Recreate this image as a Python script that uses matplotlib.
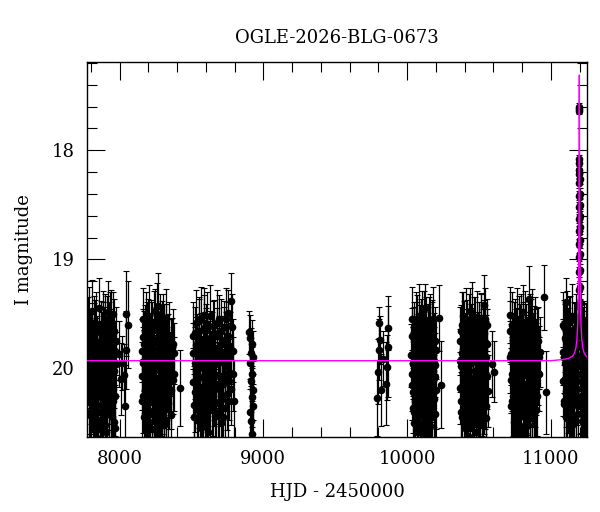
import numpy as np
import matplotlib
matplotlib.use("Agg")
import matplotlib.pyplot as plt
from matplotlib.ticker import MultipleLocator

# OGLE I-band photometry, (HJD-2450000, I mag, error), one list per season
s2017 = [(7781,19.62,0.27),(7785,20.05,0.31),(7788,20.31,0.35),(7792,19.88,0.28),(7796,19.74,0.24),
         (7799,20.18,0.33),(7803,20.44,0.38),(7807,19.95,0.30),(7811,19.69,0.22),(7814,20.12,0.31),
         (7818,20.52,0.40),(7822,19.83,0.27),(7826,20.02,0.29),(7830,19.58,0.21),(7833,20.27,0.34),
         (7837,20.39,0.36),(7841,19.91,0.28),(7845,19.77,0.25),(7849,20.08,0.30),(7852,20.56,0.42),
         (7856,19.66,0.23),(7860,20.21,0.33),(7864,19.97,0.29),(7868,19.85,0.27),(7872,20.34,0.35),
         (7875,20.47,0.37),(7879,19.72,0.24),(7883,20.01,0.30),(7887,19.61,0.22),(7891,20.15,0.32),
         (7895,20.29,0.34),(7899,19.93,0.28),(7903,19.80,0.26),(7907,20.58,0.41),(7911,20.11,0.31),
         (7915,19.55,0.21),(7919,19.89,0.27),(7923,20.24,0.33),(7927,20.42,0.37),(7931,19.52,0.22),
         (7935,19.99,0.29),(7939,20.36,0.35),(7943,19.71,0.25),(7947,20.06,0.30),(7951,19.50,0.20),
         (7955,20.19,0.32),(7960,20.49,0.38),(7965,19.84,0.27),(7971,20.55,0.40),(7978,19.96,0.29),
         (7998,19.87,0.30),(8012,20.10,0.33),(8020,19.95,0.25),(8030,20.06,0.28),(8035,20.35,0.38),
         (8042,19.83,0.36),(8047,19.50,0.39),(8058,19.60,0.40)]
s2017b = [(7783,19.98,0.33),(7790,19.55,0.30),(7794,20.40,0.38),(7801,19.79,0.31),(7805,20.22,0.36),
          (7809,19.47,0.28),(7816,20.00,0.34),(7820,20.35,0.38),(7824,19.64,0.30),(7828,20.46,0.40),
          (7835,19.86,0.32),(7839,19.60,0.30),(7843,20.25,0.37),(7847,20.50,0.42),(7854,19.90,0.33),
          (7858,19.45,0.28),(7862,20.40,0.38),(7866,20.10,0.35),(7870,19.68,0.30),(7877,20.20,0.36),
          (7881,19.58,0.29),(7885,20.38,0.40),(7889,19.95,0.33),(7893,19.75,0.31),(7897,20.52,0.42),
          (7901,19.62,0.30),(7905,20.05,0.34),(7909,19.85,0.32),(7913,20.33,0.38),(7917,19.48,0.28),
          (7921,20.10,0.35),(7925,19.70,0.31),(7929,20.28,0.37),(7933,19.92,0.33),(7937,19.57,0.29),
          (7941,20.15,0.36),(7945,20.45,0.41),(7949,19.80,0.32),(7953,20.30,0.38),(7958,19.66,0.30),
          (7962,20.02,0.34),(7968,20.25,0.37),(7975,19.75,0.31)]

s2018 = [(8153,19.84,0.29),(8157,20.07,0.31),(8162,19.71,0.25),(8166,20.25,0.34),(8170,19.93,0.28),
         (8175,20.41,0.37),(8179,19.66,0.24),(8183,20.12,0.31),(8188,19.89,0.27),(8192,20.33,0.35),
         (8196,19.58,0.22),(8201,20.03,0.30),(8205,20.49,0.39),(8209,19.77,0.26),(8214,20.18,0.33),
         (8218,19.95,0.29),(8222,20.56,0.41),(8227,19.62,0.23),(8231,20.09,0.30),(8235,19.82,0.27),
         (8240,20.38,0.36),(8244,19.47,0.20),(8248,20.21,0.33),(8253,19.98,0.29),(8257,20.60,0.42),
         (8261,19.73,0.25),(8266,20.14,0.32),(8270,19.43,0.30),(8274,20.30,0.34),(8279,19.87,0.28),
         (8283,20.45,0.38),(8287,19.69,0.24),(8292,20.05,0.30),(8296,20.26,0.34),(8300,19.54,0.22),
         (8305,19.92,0.28),(8309,20.52,0.40),(8313,19.79,0.26),(8318,20.16,0.32),(8322,19.64,0.23),
         (8326,20.37,0.36),(8331,19.90,0.28),(8335,20.01,0.30),(8340,19.75,0.25),(8345,20.23,0.33),
         (8351,19.96,0.29),(8357,20.43,0.37),(8364,19.81,0.27),(8372,20.11,0.31),(8380,19.86,0.28),
         (8417,20.18,0.35)]
s2018b = [(8155,20.30,0.37),(8160,19.95,0.33),(8164,19.55,0.29),(8168,20.45,0.40),(8173,19.78,0.31),
          (8177,20.20,0.36),(8181,19.60,0.30),(8186,20.38,0.39),(8190,19.70,0.31),(8194,20.06,0.34),
          (8199,20.50,0.42),(8203,19.85,0.32),(8207,19.52,0.28),(8212,20.28,0.37),(8216,20.00,0.34),
          (8220,19.67,0.30),(8225,20.42,0.40),(8229,19.88,0.33),(8233,20.15,0.36),(8238,19.58,0.29),
          (8242,20.02,0.34),(8246,20.48,0.41),(8251,19.75,0.31),(8255,20.35,0.38),(8259,19.50,0.28),
          (8264,19.97,0.33),(8268,20.55,0.43),(8272,19.80,0.32),(8277,20.10,0.35),(8281,19.62,0.30),
          (8285,20.25,0.37),(8290,19.92,0.33),(8294,19.68,0.30),(8298,20.40,0.39),(8303,20.12,0.35),
          (8307,19.72,0.31),(8311,20.30,0.37),(8316,19.94,0.33),(8320,20.47,0.41),(8324,19.56,0.29),
          (8329,20.05,0.34),(8333,19.83,0.32),(8338,20.32,0.38),(8343,19.70,0.31),(8348,20.08,0.35),
          (8354,19.88,0.33),(8360,20.20,0.36),(8368,19.78,0.32),(8376,20.05,0.34)]

s2019 = [(8509,19.86,0.28),(8514,20.13,0.32),(8519,20.34,0.36),(8524,19.68,0.24),(8529,20.02,0.30),
         (8534,19.79,0.26),(8539,20.47,0.39),(8544,19.92,0.29),(8549,20.22,0.33),(8554,19.57,0.22),
         (8559,20.08,0.31),(8564,20.55,0.41),(8569,19.74,0.25),(8574,19.99,0.29),(8579,20.29,0.34),
         (8584,19.51,0.25),(8589,20.17,0.32),(8594,19.83,0.27),(8599,20.40,0.37),(8604,19.65,0.24),
         (8609,20.04,0.30),(8614,20.58,0.42),(8619,19.88,0.28),(8624,20.26,0.34),(8629,19.72,0.25),
         (8634,20.10,0.31),(8640,19.95,0.29),(8646,20.37,0.36),(8652,19.61,0.23),(8658,20.20,0.33),
         (8664,19.85,0.27),(8670,20.44,0.38),(8676,19.70,0.25),(8682,20.06,0.30),(8688,19.55,0.22),
         (8694,20.31,0.35),(8700,19.91,0.28),(8706,20.50,0.40),(8712,19.78,0.26),(8718,20.14,0.32),
         (8724,19.62,0.24),(8730,20.36,0.36),(8736,19.97,0.29),(8742,19.73,0.25),(8748,20.24,0.33),
         (8754,19.49,0.21),(8760,20.03,0.30),(8767,19.86,0.28),(8774,20.19,0.33),(8776,19.38,0.25),
         (8783,19.62,0.30),(8790,19.84,0.29)]
s2019b = [(8511,19.70,0.31),(8516,20.45,0.40),(8521,19.95,0.33),(8526,20.22,0.36),(8531,19.58,0.30),
          (8536,20.10,0.35),(8541,19.82,0.32),(8546,20.38,0.39),(8551,19.66,0.30),(8556,19.98,0.33),
          (8561,20.30,0.37),(8566,19.54,0.29),(8571,20.18,0.36),(8576,20.50,0.42),(8581,19.86,0.32),
          (8586,19.63,0.30),(8591,20.26,0.37),(8596,20.02,0.34),(8601,19.76,0.31),(8606,20.44,0.40),
          (8611,19.60,0.30),(8616,20.12,0.35),(8621,19.90,0.33),(8626,20.35,0.38),(8631,19.52,0.28),
          (8637,20.05,0.34),(8643,19.80,0.32),(8649,20.25,0.37),(8655,19.68,0.31),(8661,20.40,0.39),
          (8667,19.96,0.33),(8673,20.15,0.36),(8679,19.58,0.30),(8685,20.32,0.38),(8691,19.84,0.32),
          (8697,20.08,0.35),(8703,19.66,0.30),(8709,20.28,0.37),(8715,19.94,0.33),(8721,20.45,0.40),
          (8727,19.75,0.31),(8733,20.10,0.35),(8739,19.55,0.29),(8745,19.92,0.33),(8751,20.30,0.38),
          (8757,19.70,0.31),(8763,20.12,0.35),(8770,19.80,0.32),(8786,20.05,0.34),(8793,20.30,0.38)]

s2020 = [(8903,19.67,0.20),(8906,19.95,0.24),(8908,20.40,0.30),(8910,19.72,0.21),(8912,20.12,0.26),
         (8914,20.48,0.32),(8916,19.86,0.23),(8918,20.26,0.28),(8920,19.78,0.22),(8922,20.60,0.34),
         (8924,20.05,0.25),(8926,20.35,0.30),(8928,19.90,0.24),(8930,20.20,0.27)]

s2022 = [(9788,20.27,0.35),(9795,20.03,0.30),(9802,19.83,0.28),(9806,19.58,0.14),(9813,19.74,0.22),
         (9818,20.20,0.33),(9830,19.91,0.25),(9853,20.14,0.38),(9857,19.99,0.30),(9864,19.63,0.20),
         (9870,19.80,0.46)]

s2023 = [(10029,19.88,0.29),(10033,20.15,0.32),(10037,19.70,0.25),(10040,20.36,0.36),(10044,19.96,0.29),
         (10048,20.50,0.40),(10051,19.62,0.23),(10055,20.08,0.31),(10059,19.81,0.27),(10062,20.27,0.34),
         (10066,19.55,0.22),(10070,20.01,0.30),(10073,20.45,0.38),(10077,19.76,0.26),(10081,20.19,0.33),
         (10084,19.93,0.28),(10088,20.58,0.42),(10092,19.66,0.24),(10095,20.11,0.31),(10099,19.84,0.27),
         (10103,20.39,0.37),(10106,19.50,0.21),(10110,20.23,0.33),(10114,19.99,0.29),(10117,20.62,0.43),
         (10121,19.73,0.25),(10125,20.13,0.32),(10128,19.45,0.22),(10132,20.31,0.35),(10136,19.89,0.28),
         (10139,20.47,0.39),(10143,19.68,0.24),(10147,20.04,0.30),(10150,20.25,0.34),(10154,19.58,0.23),
         (10158,19.94,0.29),(10161,20.53,0.40),(10165,19.79,0.26),(10169,20.17,0.32),(10172,19.63,0.24),
         (10176,20.35,0.36),(10180,19.91,0.28),(10183,20.02,0.30),(10187,19.74,0.25),(10190,20.21,0.33),
         (10194,19.97,0.29),(10197,20.42,0.37),(10200,19.83,0.27),(10219,19.54,0.30),(10235,20.15,0.40)]
s2023b = [(10031,20.05,0.34),(10035,19.55,0.30),(10039,19.95,0.33),(10042,20.22,0.37),(10046,19.75,0.31),
          (10050,20.40,0.40),(10053,19.85,0.32),(10057,20.30,0.38),(10060,19.60,0.30),(10064,20.12,0.35),
          (10068,20.45,0.41),(10071,19.70,0.31),(10075,19.98,0.33),(10079,20.35,0.39),(10082,19.52,0.29),
          (10086,20.15,0.36),(10090,19.88,0.33),(10093,20.50,0.42),(10097,19.66,0.30),(10101,20.02,0.34),
          (10104,20.55,0.43),(10108,19.80,0.32),(10112,20.28,0.38),(10115,19.58,0.29),(10119,20.08,0.35),
          (10123,20.40,0.40),(10126,19.92,0.33),(10130,19.65,0.30),(10134,20.20,0.37),(10137,20.58,0.44),
          (10141,19.85,0.32),(10145,20.32,0.38),(10148,19.72,0.31),(10152,20.05,0.34),(10156,20.45,0.41),
          (10159,19.62,0.30),(10163,20.10,0.35),(10167,19.90,0.33),(10170,20.38,0.39),(10174,19.68,0.31),
          (10178,20.12,0.35),(10181,19.55,0.30),(10185,20.28,0.37),(10188,19.95,0.33),(10192,20.08,0.35),
          (10195,19.75,0.31),(10198,20.20,0.36)]

s2024 = [(10366,19.93,0.29),(10370,20.18,0.33),(10374,19.66,0.24),(10378,20.40,0.37),(10382,19.86,0.28),
         (10386,20.05,0.30),(10390,19.52,0.22),(10394,20.29,0.35),(10398,19.97,0.29),(10402,20.55,0.41),
         (10406,19.74,0.25),(10410,20.12,0.31),(10414,19.60,0.23),(10418,20.34,0.36),(10422,19.90,0.28),
         (10426,20.62,0.43),(10430,19.79,0.26),(10434,20.08,0.30),(10438,19.47,0.21),(10442,20.23,0.33),
         (10446,19.95,0.29),(10450,20.48,0.39),(10454,19.69,0.24),(10458,20.15,0.32),(10462,19.84,0.27),
         (10466,20.38,0.37),(10470,19.57,0.22),(10474,20.02,0.30),(10478,20.58,0.42),(10482,19.76,0.26),
         (10486,20.20,0.33),(10490,19.88,0.28),(10494,20.44,0.38),(10498,19.63,0.24),(10502,20.10,0.31),
         (10506,19.82,0.27),(10510,20.31,0.35),(10514,19.54,0.23),(10518,19.99,0.29),(10522,20.52,0.40),
         (10526,19.71,0.25),(10530,20.16,0.32),(10534,19.42,0.28),(10538,20.26,0.34),(10542,19.92,0.28),
         (10546,20.46,0.38),(10550,19.77,0.26),(10554,20.07,0.30),(10557,19.60,0.24),(10560,20.21,0.33),
         (10593,19.96,0.30),(10605,20.03,0.28)]
s2024b = [(10368,19.75,0.31),(10372,20.30,0.38),(10376,19.98,0.33),(10380,19.60,0.30),(10384,20.45,0.41),
          (10388,19.82,0.32),(10392,20.15,0.36),(10396,19.68,0.30),(10400,20.28,0.37),(10404,19.90,0.33),
          (10408,20.50,0.42),(10412,19.55,0.29),(10416,20.05,0.34),(10420,19.78,0.32),(10424,20.38,0.39),
          (10428,19.62,0.30),(10432,20.20,0.36),(10436,19.95,0.33),(10440,20.55,0.43),(10444,19.72,0.31),
          (10448,20.10,0.35),(10452,19.50,0.29),(10456,20.32,0.38),(10460,19.86,0.32),(10464,20.48,0.41),
          (10468,19.65,0.30),(10472,20.18,0.36),(10476,19.92,0.33),(10480,20.40,0.40),(10484,19.58,0.29),
          (10488,20.02,0.34),(10492,19.80,0.32),(10496,20.30,0.38),(10500,19.70,0.31),(10504,20.52,0.42),
          (10508,19.95,0.33),(10512,20.12,0.35),(10516,19.62,0.30),(10520,20.25,0.37),(10524,19.85,0.32),
          (10528,20.42,0.40),(10532,19.68,0.31),(10536,20.08,0.35),(10540,19.55,0.29),(10544,20.20,0.36),
          (10548,19.90,0.33),(10552,20.35,0.39),(10556,19.78,0.32)]

s2025 = [(10716,19.51,0.26),(10719,19.66,0.28),(10722,20.11,0.30),(10726,19.87,0.28),(10730,20.30,0.35),
         (10734,19.74,0.25),(10738,20.05,0.30),(10742,20.49,0.39),(10746,19.62,0.23),(10750,20.18,0.33),
         (10754,19.93,0.29),(10758,20.40,0.37),(10762,19.69,0.24),(10766,20.02,0.30),(10770,20.57,0.42),
         (10774,19.80,0.27),(10778,20.24,0.34),(10782,19.56,0.22),(10786,20.09,0.31),(10790,19.96,0.29),
         (10794,20.44,0.38),(10798,19.72,0.25),(10802,20.14,0.32),(10806,19.48,0.24),(10810,20.33,0.36),
         (10814,19.89,0.28),(10818,20.60,0.43),(10822,19.77,0.26),(10826,20.06,0.30),(10830,19.64,0.23),
         (10834,20.27,0.34),(10838,19.91,0.28),(10842,20.52,0.40),(10846,19.36,0.30),(10850,20.16,0.32),
         (10854,19.84,0.27),(10858,20.37,0.36),(10862,19.59,0.23),(10866,20.00,0.30),(10870,20.46,0.38),
         (10874,19.75,0.26),(10878,20.21,0.33),(10882,19.94,0.29),(10886,19.67,0.24),(10890,20.31,0.35),
         (10894,19.86,0.28),(10898,20.12,0.31),(10902,19.70,0.25),(10908,20.04,0.30),(10915,19.90,0.29),
         (10951,19.35,0.30),(10965,20.22,0.38)]
s2025b = [(10718,19.90,0.33),(10724,20.35,0.39),(10728,19.60,0.30),(10732,20.05,0.34),(10736,19.82,0.32),
          (10740,20.25,0.37),(10744,19.95,0.33),(10748,20.45,0.41),(10752,19.66,0.30),(10756,20.12,0.35),
          (10760,19.78,0.32),(10764,20.30,0.38),(10768,19.55,0.29),(10772,20.20,0.36),(10776,19.98,0.33),
          (10780,20.52,0.42),(10784,19.72,0.31),(10788,20.28,0.37),(10792,19.62,0.30),(10796,20.08,0.35),
          (10800,19.88,0.33),(10804,20.40,0.40),(10808,19.70,0.31),(10812,20.15,0.36),(10816,19.92,0.33),
          (10820,20.55,0.43),(10824,19.58,0.29),(10828,20.22,0.37),(10832,19.85,0.32),(10836,20.45,0.41),
          (10840,19.68,0.30),(10844,20.02,0.34),(10848,19.80,0.32),(10852,20.32,0.38),(10856,19.62,0.30),
          (10860,20.10,0.35),(10864,19.95,0.33),(10868,20.28,0.37),(10872,19.56,0.29),(10876,20.05,0.34),
          (10880,20.42,0.40),(10884,19.78,0.32),(10888,20.18,0.36),(10892,19.65,0.30),(10896,20.38,0.39),
          (10900,19.88,0.33),(10905,20.25,0.37),(10911,19.75,0.31),(10920,20.05,0.34),(10928,19.85,0.32)]

s2026 = [(11083,19.85,0.30),(11087,20.12,0.32),(11091,19.62,0.25),(11095,20.33,0.36),(11099,19.95,0.29),
         (11103,19.39,0.22),(11107,20.21,0.33),(11111,19.78,0.26),(11115,20.46,0.39),(11119,19.69,0.24),
         (11123,20.05,0.30),(11127,19.88,0.28),(11131,20.38,0.37),(11135,19.57,0.23),(11139,20.16,0.32),
         (11143,19.92,0.28),(11147,20.52,0.41),(11151,19.74,0.25),(11155,20.09,0.31),(11159,19.83,0.27),
         (11163,20.29,0.35),(11167,19.64,0.24),(11171,20.02,0.30),(11175,20.43,0.38),(11179,19.80,0.27),
         (11183,20.19,0.33),(11187,19.70,0.25),(11191,19.98,0.29),
         (11206,19.78,0.27),(11209,20.25,0.34),(11212,19.90,0.29),(11215,20.48,0.40),(11218,19.66,0.25),
         (11221,20.11,0.31),(11224,19.85,0.28),(11227,20.37,0.37),(11230,19.73,0.26),(11233,20.06,0.30),
         (11236,20.55,0.42),(11239,19.94,0.29),(11242,20.20,0.33),(11245,19.81,0.27),(11248,20.40,0.38),
         (11251,19.99,0.30)]
s2026b = [(11085,19.60,0.30),(11089,20.30,0.38),(11093,19.90,0.33),(11097,20.10,0.35),(11101,19.72,0.31),
          (11105,20.45,0.41),(11109,19.95,0.33),(11113,19.58,0.29),(11117,20.22,0.37),(11121,19.82,0.32),
          (11125,20.40,0.40),(11129,19.65,0.30),(11133,20.05,0.34),(11137,19.88,0.33),(11141,20.28,0.38),
          (11145,19.52,0.29),(11149,20.15,0.36),(11153,19.96,0.33),(11157,20.48,0.42),(11161,19.70,0.31),
          (11165,20.08,0.35),(11169,19.85,0.32),(11173,20.30,0.38),(11177,19.62,0.30),(11181,20.12,0.35),
          (11185,19.92,0.33),(11189,20.35,0.39),(11192,19.78,0.32),
          (11207,20.05,0.34),(11210,19.62,0.30),(11213,20.30,0.38),(11216,19.88,0.33),(11219,20.42,0.40),
          (11222,19.75,0.31),(11225,20.15,0.36),(11228,19.95,0.33),(11231,20.50,0.42),(11234,19.68,0.30),
          (11237,20.22,0.37),(11240,19.85,0.32),(11243,20.35,0.39),(11246,19.72,0.31),(11249,20.10,0.35)]

# points on the magnification peak
event = [(11193.0,19.55,0.16),(11194.0,19.42,0.14),(11194.8,19.28,0.12),(11195.5,19.12,0.10),
         (11196.0,18.98,0.09),(11196.4,18.86,0.08),(11196.8,18.74,0.07),(11197.1,18.63,0.06),
         (11197.4,18.52,0.06),(11197.7,18.42,0.05),(11197.9,18.30,0.05),(11198.1,18.22,0.04),
         (11198.3,18.12,0.04),(11198.6,17.62,0.03),(11198.8,17.60,0.03),(11199.2,17.64,0.03),
         (11199.5,18.08,0.04),(11199.8,18.18,0.04),(11200.0,18.26,0.05),(11200.3,18.40,0.05),
         (11200.6,18.50,0.06),(11200.9,18.60,0.06),(11201.3,18.70,0.07),(11201.7,18.82,0.08),
         (11202.2,18.95,0.09),(11202.8,19.10,0.10),(11203.5,19.25,0.12),(11204.3,19.40,0.14),
         (11205.0,19.52,0.16)]

# model light curve
model_t = [7700, 11000, 11080, 11120, 11150, 11165, 11175, 11182, 11187, 11190, 11193, 11195,
           11196.5, 11197.5, 11198.3, 11198.7, 11199.1, 11199.9, 11200.9, 11202.4, 11204.4,
           11207.4, 11210.4, 11215.4, 11222.4, 11232, 11247, 11300]
model_m = [19.93, 19.93, 19.92, 19.91, 19.89, 19.86, 19.81, 19.73, 19.60, 19.45, 19.18, 18.85,
           18.45, 18.00, 17.55, 17.31, 17.55, 18.00, 18.45, 18.85, 19.18,
           19.45, 19.60, 19.73, 19.81, 19.86, 19.89, 19.91]

plt.rcParams['font.family'] = ['DejaVu Serif']

fig = plt.figure(figsize=(6, 5.12), dpi=100)
ax = fig.add_axes([87/600, 1 - 437/512, 500/600, 375/512])

seasons = [s2017, s2017b, s2018, s2018b, s2019, s2019b, s2020, s2022,
           s2023, s2023b, s2024, s2024b, s2025, s2025b, s2026, s2026b, event]
for season in seasons:
    d = np.array(season)
    ax.errorbar(d[:, 0], d[:, 1], yerr=d[:, 2], fmt='o', color='black', ms=4.5,
                ecolor='black', elinewidth=0.9, capsize=2.5, capthick=0.8, zorder=2)

ax.plot(model_t, model_m, color='magenta', lw=1.0, zorder=3)

ax.set_xlim(7773, 11252)
ax.set_ylim(20.63, 17.19)

ax.xaxis.set_major_locator(MultipleLocator(1000))
ax.xaxis.set_minor_locator(MultipleLocator(200))
ax.yaxis.set_major_locator(MultipleLocator(1))
ax.yaxis.set_minor_locator(MultipleLocator(0.2))
ax.tick_params(which='both', direction='in', top=True, right=True, width=0.8)
ax.tick_params(which='major', length=13, labelsize=13, pad=9)
ax.tick_params(which='minor', length=7)
for sp in ax.spines.values():
    sp.set_linewidth(1.0)

ax.set_xlabel('HJD - 2450000', fontsize=13, labelpad=11)
ax.set_ylabel('I magnitude', fontsize=13, labelpad=13)
ax.set_title('OGLE-2026-BLG-0673', fontsize=13, pad=14)

fig.savefig('out.png', dpi=100)
